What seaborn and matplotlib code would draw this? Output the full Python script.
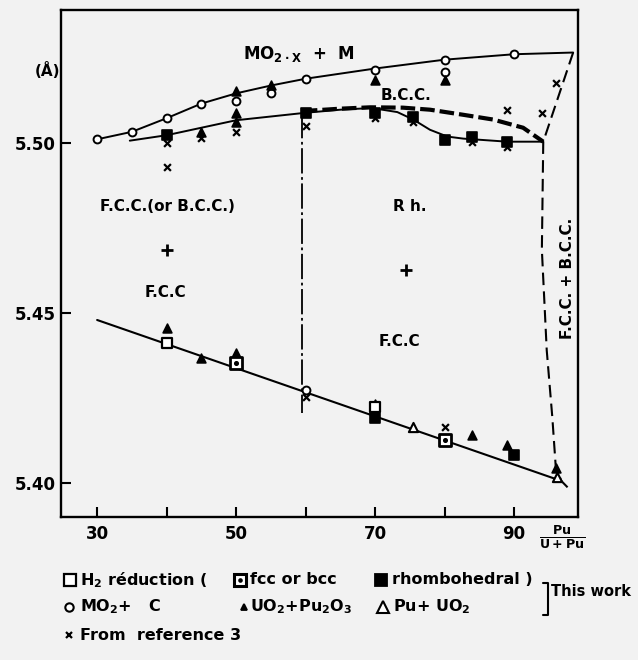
import numpy as np
import pandas as pd
import matplotlib
matplotlib.use("Agg")
import matplotlib.pyplot as plt
import seaborn as sns

# ---------------- data ----------------
# phase-boundary curves
upper_x = [30, 35, 40, 45, 50, 55, 60, 70, 80, 90, 98.5]
upper_y = [5.5010, 5.5032, 5.5072, 5.5115, 5.5145, 5.5168, 5.5188, 5.5218, 5.5244, 5.5260, 5.5265]

mid_x = [34.7, 40, 50, 60, 65, 69.5, 73.2, 75.5, 77.9, 80.4, 82.7, 89, 94.2]
mid_y = [5.5006, 5.5022, 5.5066, 5.5088, 5.5097, 5.5102, 5.5090, 5.5068, 5.5038, 5.5018, 5.5012, 5.5003, 5.5003]

bcc_x = [59.6, 65, 69.3, 74, 77.9, 82.7, 87, 91.3, 94.2]
bcc_y = [5.5093, 5.5100, 5.5104, 5.5103, 5.5097, 5.5082, 5.5068, 5.5044, 5.5003]

edge_x = [98.5, 94.2, 94.0, 94.7, 95.5, 96.0, 96.8, 97.9]
edge_y = [5.5265, 5.5003, 5.4685, 5.4390, 5.4194, 5.4047, 5.4006, 5.3983]

fcc_x = [30, 96.8]
fcc_y = [5.4479, 5.4006]

split_x = [59.5, 59.5]
split_y = [5.5088, 5.4206]

# data points
circ_x = [30, 35, 40, 45, 50, 55, 60, 70, 80, 80, 90, 60]
circ_y = [5.5010, 5.5032, 5.5072, 5.5115, 5.5122, 5.5147, 5.5188, 5.5215, 5.5244, 5.5209, 5.5260, 5.4274]

ftri_x = [50, 55, 70, 80, 50, 50, 45, 40, 45, 50, 70, 84, 89, 96]
ftri_y = [5.5152, 5.5170, 5.5185, 5.5185, 5.5088, 5.5062, 5.5030, 5.4456, 5.4368, 5.4382, 5.4232, 5.4141, 5.4112, 5.4044]

otri_x = [75.5, 96.2]
otri_y = [5.4165, 5.4018]

osq_x = [40, 70]
osq_y = [5.4412, 5.4222]

dsq_x = [50, 80]
dsq_y = [5.4353, 5.4125]

rsq_x = [40, 60, 70, 75.5, 80, 84, 89, 70, 90]
rsq_y = [5.5022, 5.5088, 5.5086, 5.5076, 5.5009, 5.5016, 5.5001, 5.4191, 5.4082]

ref_x = [40, 40, 45, 50, 60, 70, 75.5, 84, 89, 89, 94, 96, 60, 80]
ref_y = [5.4998, 5.4930, 5.5013, 5.5030, 5.5048, 5.5072, 5.5062, 5.5002, 5.4988, 5.5097, 5.5088, 5.5176, 5.4253, 5.4165]

plus_x = [40, 74.5]
plus_y = [5.4685, 5.4626]

x_ticks = [30, 40, 50, 60, 70, 80, 90]
x_ticklabels = ["30", "", "50", "", "70", "", "90"]
y_ticks = [5.40, 5.45, 5.50]
y_ticklabels = ["5.40", "5.45", "5.50"]

# ---------------- style ----------------
sns.set_theme(style="white")
plt.rcParams["font.family"] = ["DejaVu Sans"]
plt.rcParams["font.weight"] = "bold"
plt.rcParams["text.color"] = "black"
plt.rcParams["mathtext.fontset"] = "custom"
plt.rcParams["mathtext.rm"] = "DejaVu Sans:bold"
plt.rcParams["mathtext.it"] = "DejaVu Sans:bold"
plt.rcParams["mathtext.bf"] = "DejaVu Sans:bold"

BG = "#f2f2f2"
W, H = 638, 660
fig = plt.figure(figsize=(W / 100, H / 100), dpi=100, facecolor=BG)
ax = fig.add_axes([61 / W, 1 - 517 / H, (578 - 61) / W, (517 - 10) / H], facecolor=BG)

def line(xs, ys, **kw):
    d = pd.DataFrame({"x": xs, "y": ys})
    sns.lineplot(data=d, x="x", y="y", ax=ax, sort=False, estimator=None,
                 color="black", legend=False, **kw)

line(upper_x, upper_y, linewidth=1.4)
line(mid_x, mid_y, linewidth=1.4)
line(bcc_x, bcc_y, linewidth=3.0, dashes=(3.5, 1.2))
line(edge_x, edge_y, linewidth=1.5, dashes=(6, 3))
line(fcc_x, fcc_y, linewidth=1.5)
line(split_x, split_y, linewidth=1.3, dashes=(14, 2, 1.5, 2))

def pts(xs, ys, marker, face, s=34, lw=1.2):
    d = pd.DataFrame({"x": xs, "y": ys})
    if marker in ("x", "+"):
        sns.scatterplot(data=d, x="x", y="y", ax=ax, marker=marker, color="black",
                        s=s, linewidth=lw, legend=False, zorder=5)
    else:
        sns.scatterplot(data=d, x="x", y="y", ax=ax, marker=marker, color=face,
                        edgecolor="black", s=s, linewidth=lw, legend=False, zorder=5)

pts(circ_x, circ_y, "o", "white", s=32, lw=1.4)
pts(rsq_x, rsq_y, "s", "black", s=46)
pts(ftri_x, ftri_y, "^", "black", s=40)
pts(otri_x, otri_y, "^", "white", s=44, lw=1.5)
pts(osq_x, osq_y, "s", "white", s=48, lw=1.6)
pts(dsq_x, dsq_y, "s", "white", s=64, lw=2.0)
pts(dsq_x, dsq_y, ".", "black", s=24)
pts(ref_x, ref_y, "x", "black", s=24, lw=1.6)
pts(plus_x, plus_y, "+", "black", s=80, lw=2.0)

ax.set_xlim(24.8, 99.2)
ax.set_ylim(5.390, 5.539)
ax.set_xticks(x_ticks)
ax.set_xticklabels(x_ticklabels)
ax.set_yticks(y_ticks)
ax.set_yticklabels(y_ticklabels)
ax.set_xlabel("")
ax.set_ylabel("")
ax.tick_params(axis="both", direction="in", length=7, width=1.5, colors="black",
               labelcolor="black", labelsize=12, bottom=True, left=True)
ax.tick_params(axis="x", pad=6)
ax.tick_params(axis="y", pad=4)
for sp in ax.spines.values():
    sp.set_color("black")
    sp.set_linewidth(1.7)

# region labels
fs = 11
ax.text(59.1, 5.5262, r"MO$_{2\cdot X}$  +  M", ha="center", va="center", fontsize=12)
ax.text(74.5, 5.5140, "B.C.C.", ha="center", va="center", fontsize=fs)
ax.text(40.1, 5.4812, "F.C.C.(or B.C.C.)", ha="center", va="center", fontsize=fs)
ax.text(39.8, 5.4560, "F.C.C", ha="center", va="center", fontsize=fs)
ax.text(75.0, 5.4812, "R h.", ha="center", va="center", fontsize=fs)
ax.text(73.5, 5.4415, "F.C.C", ha="center", va="center", fontsize=fs)
ax.text(97.7, 5.4600, "F.C.C. + B.C.C.", ha="center", va="center", fontsize=fs,
        rotation=90)

# axis annotations
fig.text(48 / W, 1 - 71 / H, "(Å)", ha="center", va="center", fontsize=11)
fig.text(562 / W, 1 - 537 / H, r"$\mathrm{\frac{Pu}{U+Pu}}$", ha="center", va="center",
         fontsize=13)

# legend block
def fx(px):
    return px / W

def fy(py):
    return 1 - py / H

def fmark(px, py, marker, face, ms=8, mew=1.3):
    ax.plot([fx(px)], [fy(py)], marker=marker, markerfacecolor=face,
            markeredgecolor="black", color="black", ms=ms, mew=mew,
            transform=fig.transFigure, clip_on=False, linestyle="none")

fs2 = 11.5
fmark(70, 580, "s", "white", mew=1.6)
fig.text(fx(80), fy(580), r"H$_2$ réduction (", ha="left", va="center", fontsize=fs2)
fmark(240, 580, "s", "white", ms=8, mew=2.2)
fmark(240, 580, ".", "black", ms=4)
fig.text(fx(250), fy(580), "fcc or bcc", ha="left", va="center", fontsize=fs2)
fmark(381, 580, "s", "black")
fig.text(fx(392), fy(580), "rhombohedral )", ha="left", va="center", fontsize=fs2)

fmark(69, 607, "o", "white", ms=6, mew=1.5)
fig.text(fx(80), fy(607), r"MO$_2$+   C", ha="left", va="center", fontsize=fs2)
fmark(244, 607, "^", "black", ms=5)
fig.text(fx(250), fy(607), r"UO$_2$+Pu$_2$O$_3$", ha="left", va="center", fontsize=fs2)
fmark(383, 607, "^", "white", ms=8, mew=1.5)
fig.text(fx(393), fy(607), r"Pu+ UO$_2$", ha="left", va="center", fontsize=fs2)

fmark(69, 635, "x", "black", ms=5, mew=1.6)
fig.text(fx(80), fy(635), "From  reference 3", ha="left", va="center", fontsize=fs2)

# bracket
ax.plot([fx(543), fx(548), fx(548), fx(543)], [fy(583), fy(583), fy(615), fy(615)],
        color="black", lw=1.5, transform=fig.transFigure, clip_on=False)
fig.text(fx(551), fy(592), "This work", ha="left", va="center", fontsize=10.5)

fig.savefig("out.png", dpi=100, facecolor=BG)
